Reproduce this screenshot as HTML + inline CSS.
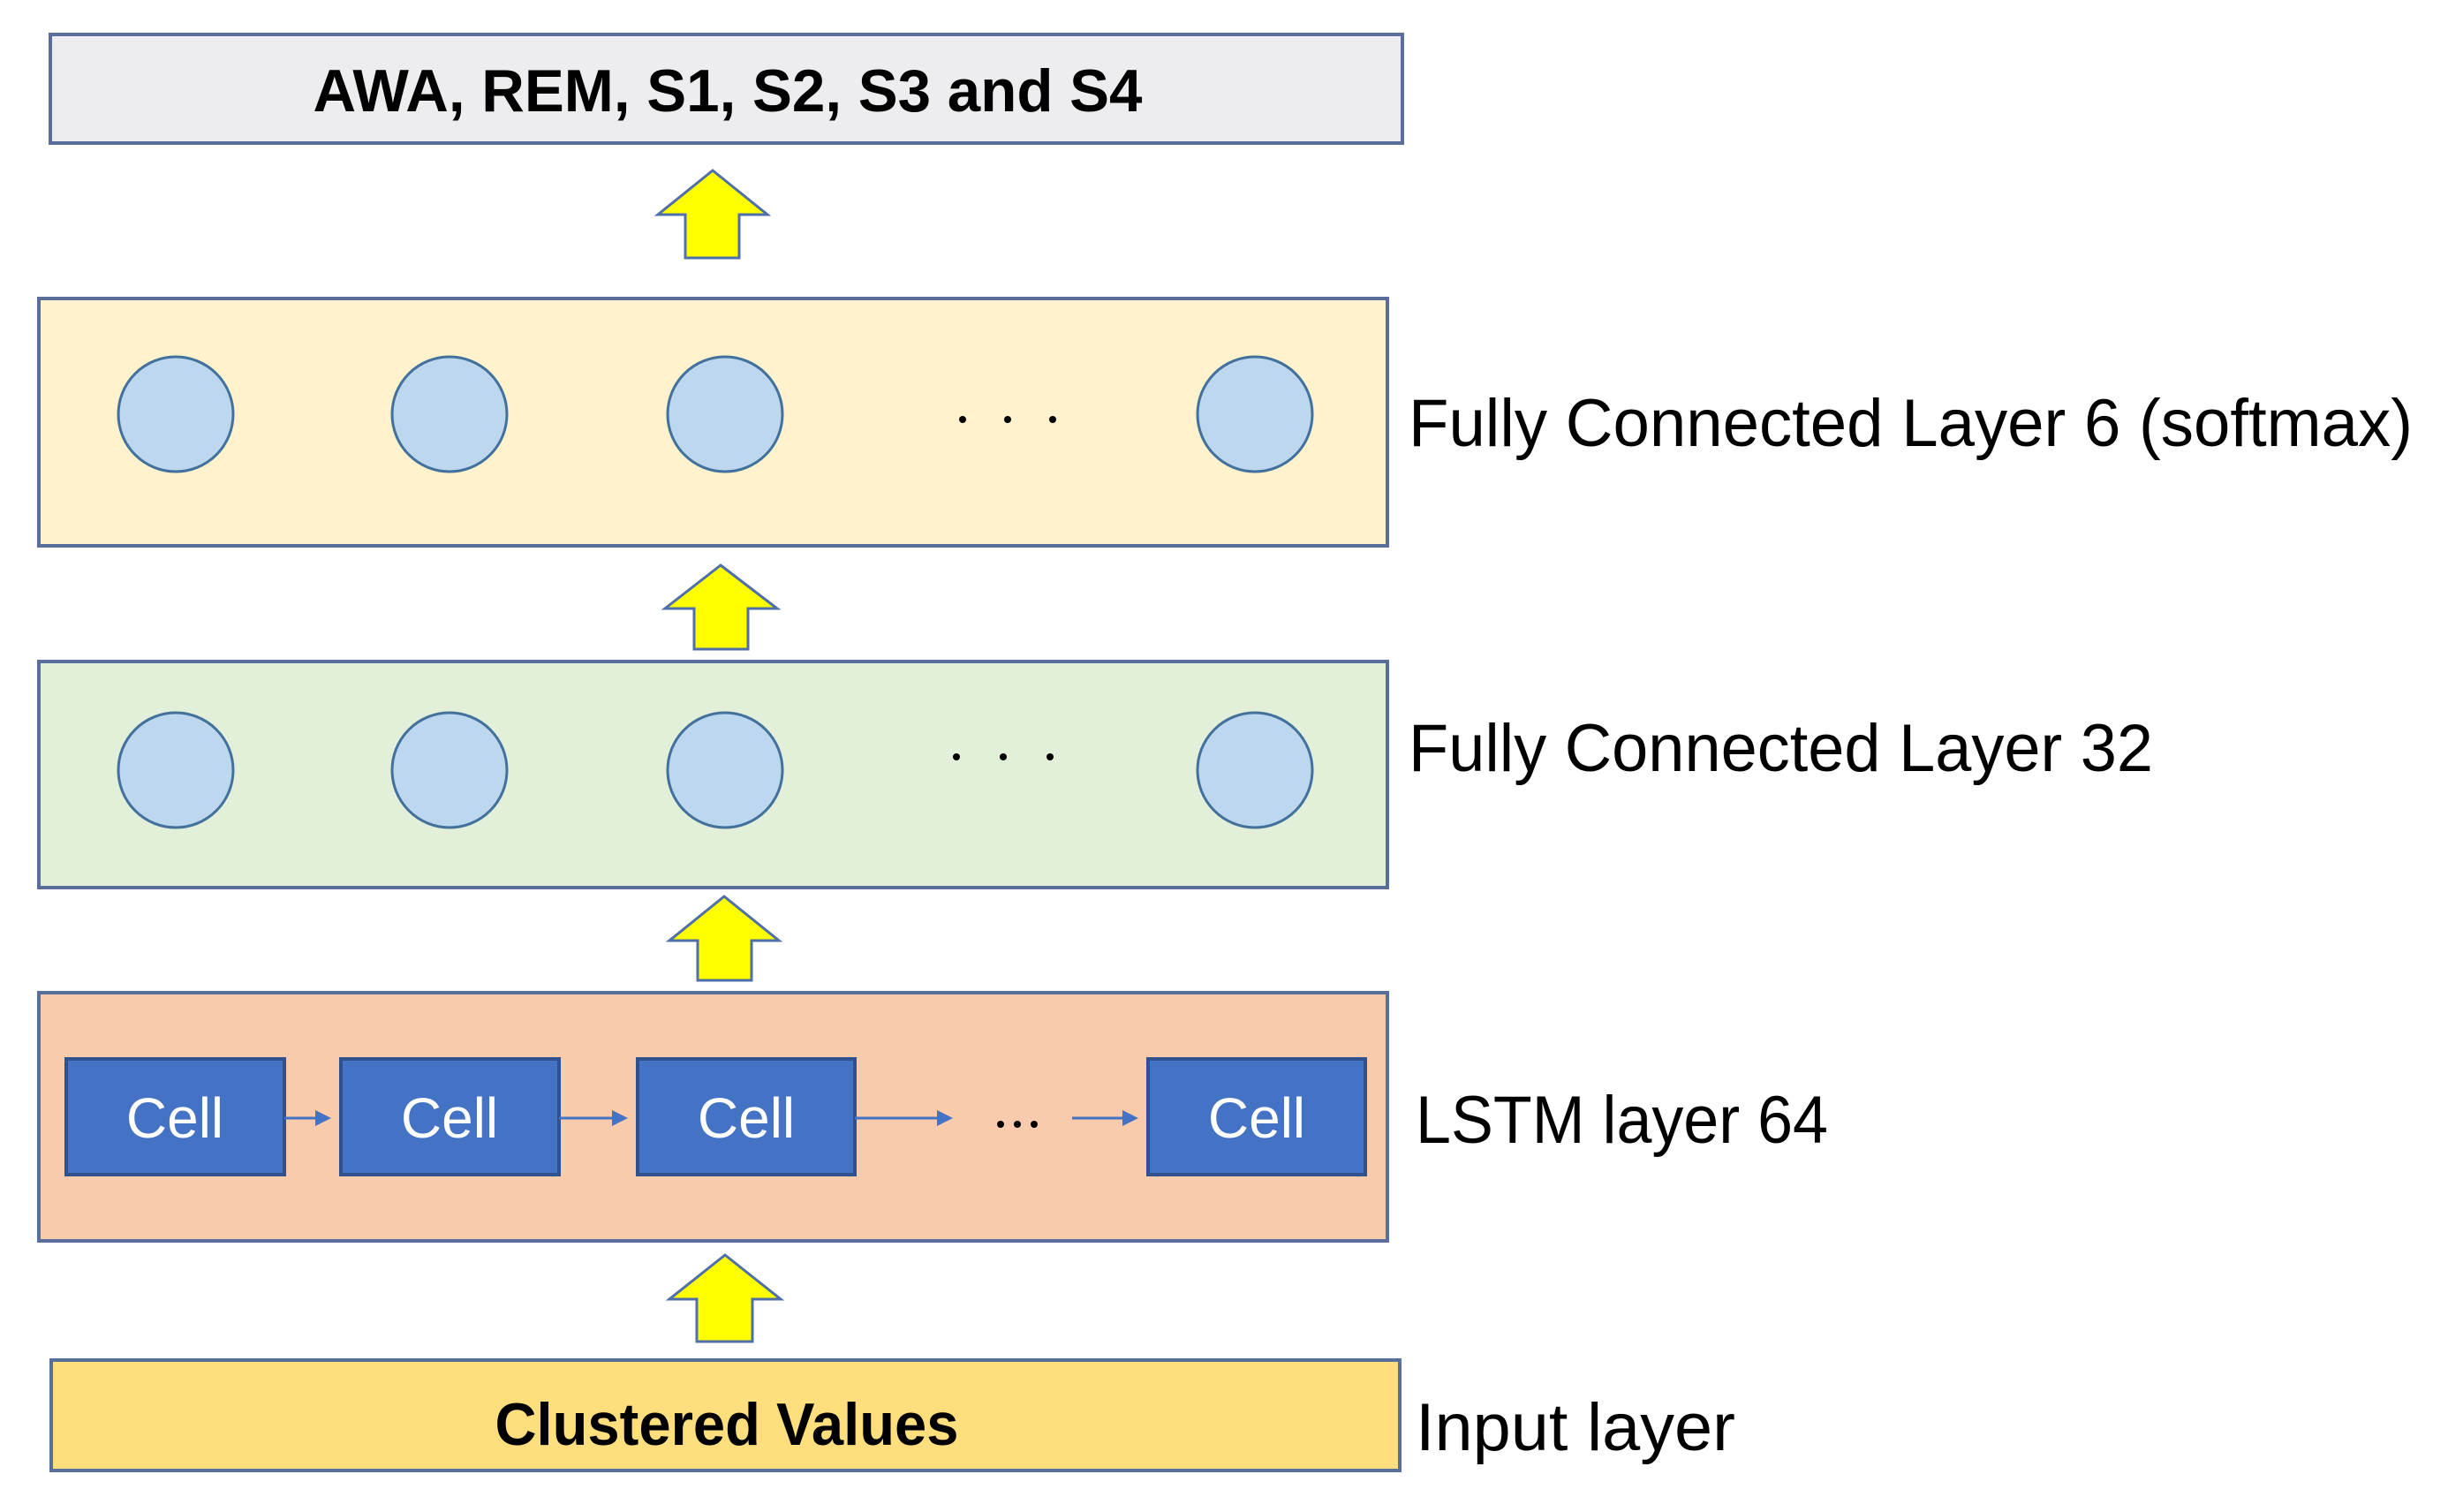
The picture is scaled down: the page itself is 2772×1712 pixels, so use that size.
<!DOCTYPE html>
<html><head><meta charset="utf-8"><style>
html,body{margin:0;padding:0;background:#fff;}
svg{display:block;}
text{font-family:"Liberation Sans",sans-serif;}
</style></head><body>
<svg width="2772" height="1712" viewBox="0 0 2772 1712" xmlns="http://www.w3.org/2000/svg">
<defs>
<marker id="ah" markerWidth="6" markerHeight="6" refX="5" refY="3" orient="auto" markerUnits="strokeWidth"><path d="M0,0 L6,3 L0,6 z" fill="#4472c4"/></marker>
</defs>
<!-- top box -->
<rect x="57" y="39" width="1531" height="123" fill="#ededf0" stroke="#5a6e9c" stroke-width="4"/>
<text x="824" y="126" font-size="68" font-weight="bold" text-anchor="middle" textLength="939" lengthAdjust="spacingAndGlyphs">AWA, REM, S1, S2, S3 and S4</text>

<!-- arrows -->
<g fill="#ffff00" stroke="#4f6fa8" stroke-width="3" stroke-linejoin="miter">
<path d="M807,193 L869,243 L837,243 L837,292 L776,292 L776,243 L745,243 Z"/>
<path d="M816,640 L880,689 L847,689 L847,735 L786,735 L786,689 L753,689 Z"/>
<path d="M820,1015 L882,1065 L851,1065 L851,1110 L790,1110 L790,1065 L758,1065 Z"/>
<path d="M821,1421 L884,1471 L852,1471 L852,1519 L789,1519 L789,1471 L758,1471 Z"/>
</g>

<!-- FC6 -->
<rect x="44" y="338" width="1527" height="280" fill="#fff2cc" stroke="#5a6e9c" stroke-width="4"/>
<g fill="#bdd7ee" stroke="#41719c" stroke-width="3">
<circle cx="199" cy="469" r="65"/><circle cx="509" cy="469" r="65"/><circle cx="821" cy="469" r="65"/><circle cx="1421" cy="469" r="65"/>
</g>
<g fill="#000"><circle cx="1090" cy="475" r="4"/><circle cx="1141" cy="475" r="4"/><circle cx="1192" cy="475" r="4"/></g>
<text x="1595" y="505" font-size="76" textLength="1137" lengthAdjust="spacingAndGlyphs">Fully Connected Layer 6 (softmax)</text>

<!-- FC32 -->
<rect x="44" y="749" width="1527" height="256" fill="#e2efd9" stroke="#5a6e9c" stroke-width="4"/>
<g fill="#bdd7ee" stroke="#41719c" stroke-width="3">
<circle cx="199" cy="872" r="65"/><circle cx="509" cy="872" r="65"/><circle cx="821" cy="872" r="65"/><circle cx="1421" cy="872" r="65"/>
</g>
<g fill="#000"><circle cx="1083" cy="857" r="4"/><circle cx="1136" cy="857" r="4"/><circle cx="1189" cy="857" r="4"/></g>
<text x="1595" y="873" font-size="76" textLength="843" lengthAdjust="spacingAndGlyphs">Fully Connected Layer 32</text>

<!-- LSTM -->
<rect x="44" y="1124" width="1527" height="281" fill="#f8cbad" stroke="#5a6e9c" stroke-width="4"/>
<g fill="#4472c4" stroke="#2f528f" stroke-width="4">
<rect x="75" y="1199" width="247" height="131"/>
<rect x="386" y="1199" width="247" height="131"/>
<rect x="722" y="1199" width="246" height="131"/>
<rect x="1300" y="1199" width="246" height="131"/>
</g>
<g stroke="#4472c4" stroke-width="3" marker-end="url(#ah)">
<line x1="322" y1="1266" x2="372" y2="1266"/>
<line x1="633" y1="1266" x2="708" y2="1266"/>
<line x1="968" y1="1266" x2="1076" y2="1266"/>
<line x1="1214" y1="1266" x2="1286" y2="1266"/>
</g>
<g fill="#000"><circle cx="1133" cy="1273" r="4"/><circle cx="1152" cy="1273" r="4"/><circle cx="1171" cy="1273" r="4"/></g>
<g fill="#fff" font-size="64" text-anchor="middle">
<text x="198" y="1288">Cell</text><text x="509" y="1288">Cell</text><text x="845" y="1288">Cell</text><text x="1423" y="1288">Cell</text>
</g>
<text x="1603" y="1294" font-size="76" textLength="467" lengthAdjust="spacingAndGlyphs">LSTM layer 64</text>

<!-- input -->
<rect x="58" y="1540" width="1527" height="125" fill="#ffd966" fill-opacity="0.85" stroke="#5a6e9c" stroke-width="4"/>
<text x="823" y="1636" font-size="68" font-weight="bold" text-anchor="middle" textLength="525" lengthAdjust="spacingAndGlyphs">Clustered Values</text>
<text x="1603" y="1642" font-size="76" textLength="362" lengthAdjust="spacingAndGlyphs">Input layer</text>
</svg>
</body></html>
